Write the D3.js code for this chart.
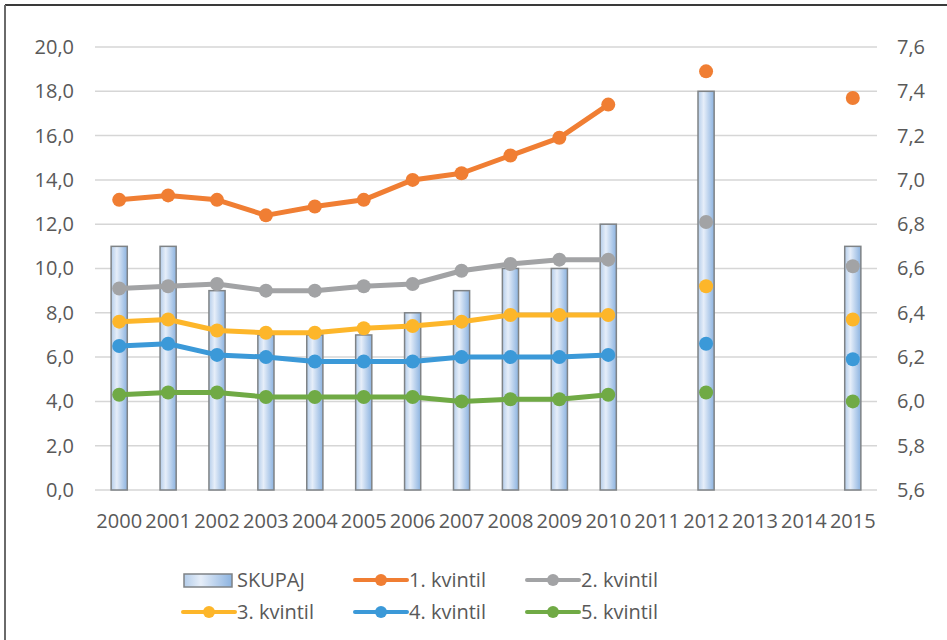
<!DOCTYPE html>
<html>
<head>
<meta charset="utf-8">
<script src="https://cdn.jsdelivr.net/npm/d3@7"></script>
<style>
  body { margin: 0; background: #fff; }
  svg text { font-family: "Open Sans", "Noto Sans", sans-serif; fill: #595959; }
</style>
</head>
<body>
<div id="chart"></div>
<script>
var years = ['2000','2001','2002','2003','2004','2005','2006','2007','2008','2009','2010','2011','2012','2013','2014','2015'];

// SKUPAJ (right axis)
var skupaj = [6.7, 6.7, 6.5, 6.3, 6.3, 6.3, 6.4, 6.5, 6.6, 6.6, 6.8, null, 7.4, null, null, 6.7];

// kvintili (left axis)
var k1 = [13.1, 13.3, 13.1, 12.4, 12.8, 13.1, 14.0, 14.3, 15.1, 15.9, 17.4, null, 18.9, null, null, 17.7];
var k2 = [9.1, 9.2, 9.3, 9.0, 9.0, 9.2, 9.3, 9.9, 10.2, 10.4, 10.4, null, 12.1, null, null, 10.1];
var k3 = [7.6, 7.7, 7.2, 7.1, 7.1, 7.3, 7.4, 7.6, 7.9, 7.9, 7.9, null, 9.2, null, null, 7.7];
var k4 = [6.5, 6.6, 6.1, 6.0, 5.8, 5.8, 5.8, 6.0, 6.0, 6.0, 6.1, null, 6.6, null, null, 5.9];
var k5 = [4.3, 4.4, 4.4, 4.2, 4.2, 4.2, 4.2, 4.0, 4.1, 4.1, 4.3, null, 4.4, null, null, 4.0];

var leftTicks = [0, 2, 4, 6, 8, 10, 12, 14, 16, 18, 20];
var rightTicks = [5.6, 5.8, 6.0, 6.2, 6.4, 6.6, 6.8, 7.0, 7.2, 7.4, 7.6];

var series = [
  { name: '1. kvintil', values: k1, color: '#f07e33' },
  { name: '2. kvintil', values: k2, color: '#a2a3a5' },
  { name: '3. kvintil', values: k3, color: '#fdb62a' },
  { name: '4. kvintil', values: k4, color: '#3b99d8' },
  { name: '5. kvintil', values: k5, color: '#70aa45' }
];

var W = 947, H = 640;
var plot = { left: 95, right: 877, top: 47, bottom: 490 };
var fontSize = '20px';

var svg = d3.select('#chart').append('svg')
  .attr('width', W)
  .attr('height', H);

// frame (only top and left edges are visible)
svg.append('line').attr('x1', 5).attr('x2', W).attr('y1', 5).attr('y2', 5)
  .attr('stroke', '#3a3a3a').attr('stroke-width', 2);
svg.append('line').attr('x1', 5).attr('x2', 5).attr('y1', 5).attr('y2', H)
  .attr('stroke', '#6a6a6a').attr('stroke-width', 2);

var defs = svg.append('defs');
var grad = defs.append('linearGradient').attr('id', 'barGrad')
  .attr('x1', '0%').attr('x2', '100%').attr('y1', '0%').attr('y2', '0%');
grad.append('stop').attr('offset', '0%').attr('stop-color', '#b4cdea');
grad.append('stop').attr('offset', '35%').attr('stop-color', '#e6eef9');
grad.append('stop').attr('offset', '100%').attr('stop-color', '#8cb3e0');

var x = d3.scaleBand().domain(years).range([plot.left, plot.right]).paddingInner(0.67).paddingOuter(0.33);
var xc = function (d) { return x(d) + x.bandwidth() / 2; };
var yL = d3.scaleLinear().domain([0, 20]).range([plot.bottom, plot.top]);
var yR = d3.scaleLinear().domain([5.6, 7.6]).range([plot.bottom, plot.top]);

// gridlines
svg.append('g')
  .selectAll('line')
  .data(leftTicks)
  .enter()
  .append('line')
  .attr('x1', plot.left).attr('x2', plot.right)
  .attr('y1', function (d) { return yL(d); })
  .attr('y2', function (d) { return yL(d); })
  .attr('stroke', '#d6d6d6')
  .attr('stroke-width', 1.5);

// axes
var fmt = function (d) { return d.toFixed(1).replace('.', ','); };

var gLeft = svg.append('g')
  .attr('transform', 'translate(' + (plot.left - 21) + ',0)')
  .call(d3.axisLeft(yL).tickValues(leftTicks).tickFormat(fmt).tickSize(0).tickPadding(0));
gLeft.select('.domain').remove();

var gRight = svg.append('g')
  .attr('transform', 'translate(' + (plot.right + 20) + ',0)')
  .call(d3.axisRight(yR).tickValues(rightTicks).tickFormat(fmt).tickSize(0).tickPadding(0));
gRight.select('.domain').remove();

var gBottom = svg.append('g')
  .attr('transform', 'translate(0,' + (plot.bottom + 19) + ')')
  .call(d3.axisBottom(x).tickSize(0).tickPadding(0));
gBottom.select('.domain').remove();

svg.selectAll('.tick text')
  .attr('font-size', fontSize)
  .attr('font-family', '"Open Sans", sans-serif')
  .attr('fill', '#595959');
gBottom.selectAll('.tick text').attr('dy', '0.95em');

// bars
svg.append('g')
  .selectAll('rect')
  .data(years.map(function (y, i) { return { year: y, v: skupaj[i] }; }).filter(function (d) { return d.v != null; }))
  .enter()
  .append('rect')
  .attr('x', function (d) { return x(d.year); })
  .attr('width', x.bandwidth())
  .attr('y', function (d) { return yR(d.v); })
  .attr('height', function (d) { return yR(5.6) - yR(d.v); })
  .attr('fill', 'url(#barGrad)')
  .attr('stroke', '#7f8386')
  .attr('stroke-width', 1.5);

// lines + markers
var line = d3.line()
  .defined(function (d) { return d.v != null; })
  .x(function (d) { return xc(d.year); })
  .y(function (d) { return yL(d.v); });

series.forEach(function (s) {
  var pts = years.map(function (y, i) { return { year: y, v: s.values[i] }; });
  var g = svg.append('g');
  g.append('path')
    .datum(pts)
    .attr('d', line)
    .attr('fill', 'none')
    .attr('stroke', s.color)
    .attr('stroke-width', 5)
    .attr('stroke-linejoin', 'round');
  g.selectAll('circle')
    .data(pts.filter(function (d) { return d.v != null; }))
    .enter()
    .append('circle')
    .attr('cx', function (d) { return xc(d.year); })
    .attr('cy', function (d) { return yL(d.v); })
    .attr('r', 7)
    .attr('fill', s.color);
});

// legend
var legendItems = [{ name: 'SKUPAJ', bar: true }].concat(series);
var legend = svg.append('g');
legendItems.forEach(function (d, i) {
  var lx = 183 + (i % 3) * 172;
  var ly = 580 + Math.floor(i / 3) * 32;
  var item = legend.append('g').attr('transform', 'translate(' + lx + ',' + ly + ')');
  if (d.bar) {
    item.append('rect')
      .attr('x', 1).attr('y', -6).attr('width', 48).attr('height', 13)
      .attr('fill', 'url(#barGrad)')
      .attr('stroke', '#7f8386').attr('stroke-width', 1.5);
  } else {
    item.append('line')
      .attr('x1', 0).attr('x2', 52).attr('y1', 0).attr('y2', 0)
      .attr('stroke', d.color).attr('stroke-width', 4).attr('stroke-linecap', 'round');
    item.append('circle').attr('cx', 26).attr('cy', 0).attr('r', 6).attr('fill', d.color);
  }
  item.append('text')
    .attr('x', 54)
    .attr('y', 0)
    .attr('dy', '0.35em')
    .attr('font-size', fontSize)
    .text(d.name);
});
</script>
</body>
</html>
